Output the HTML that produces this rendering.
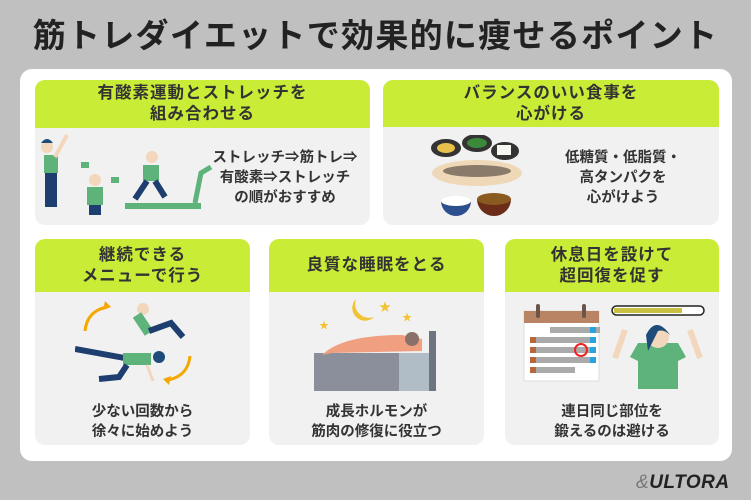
<!DOCTYPE html>
<html><head><meta charset="utf-8"><style>
*{margin:0;padding:0;box-sizing:border-box}
body{width:751px;height:500px;background:#c0c0c0;position:relative;overflow:hidden;font-family:"Liberation Sans","Noto Sans CJK JP",sans-serif;color:#333}
.title{position:absolute;left:0;top:14px;width:751px;text-align:center;font-size:33px;font-weight:bold;color:#222;letter-spacing:1.3px;line-height:44px}
.panel{position:absolute;left:20px;top:69px;width:712px;height:392px;background:#fff;border-radius:12px}
.card{position:absolute;background:#f1f1f1;border-radius:10px;overflow:hidden}
.hd{background:#c9ec36;color:#333;font-weight:bold;font-size:16.5px;line-height:21px;text-align:center;display:flex;align-items:center;justify-content:center;letter-spacing:1px}
.tx{position:absolute;font-weight:bold;font-size:14.5px;line-height:20px;text-align:center;color:#333}
svg{position:absolute}
.logo{position:absolute;left:636px;top:472px;font-size:19px;font-weight:bold;font-style:italic;color:#222;letter-spacing:0.5px}
</style></head><body>
<div class="title">筋トレダイエットで効果的に痩せるポイント</div>
<div class="panel"></div>

<div class="card" style="left:35px;top:80px;width:335px;height:145px">
 <div class="hd" style="height:48px">有酸素運動とストレッチを<br>組み合わせる</div>
 <svg width="200" height="100" style="left:0;top:35px" viewBox="0 0 200 100">
  <circle cx="12" cy="32" r="6" fill="#f3d7bd"/><path d="M6 28 q6-8 12 0" fill="#1d4c7a"/>
  <rect x="9" y="40" width="14" height="18" fill="#5db37a"/><rect x="10" y="58" width="12" height="34" fill="#1d3e6e"/>
  <path d="M20 42 l12-22" stroke="#f3d7bd" stroke-width="4"/>
  <circle cx="60" cy="65" r="6" fill="#f3d7bd"/><rect x="52" y="72" width="16" height="18" fill="#5db37a"/><rect x="54" y="90" width="12" height="20" fill="#1d3e6e"/>
  <rect x="46" y="47" width="8" height="6" fill="#5db37a"/><rect x="76" y="62" width="8" height="6" fill="#5db37a"/>
  <circle cx="117" cy="42" r="6" fill="#f3d7bd"/><rect x="108" y="50" width="16" height="16" fill="#5db37a"/><path d="M112 66 l-12 18 M120 66 l10 16" stroke="#1d3e6e" stroke-width="6"/>
  <rect x="90" y="88" width="76" height="6" fill="#5db37a"/><path d="M160 88 l6-30 l10-6" stroke="#5db37a" stroke-width="5" fill="none"/>
 </svg>
 <div class="tx" style="left:165px;top:68px;width:170px">ストレッチ⇒筋トレ⇒<br>有酸素⇒ストレッチ<br>の順がおすすめ</div>
</div>

<div class="card" style="left:383px;top:80px;width:336px;height:145px">
 <div class="hd" style="height:47px">バランスのいい食事を<br>心がける</div>
 <svg width="100" height="85" style="left:48px;top:55px" viewBox="0 0 100 85">
  <ellipse cx="15" cy="13" rx="15" ry="9" fill="#333"/><ellipse cx="15" cy="13" rx="9" ry="5" fill="#e9c14a"/>
  <ellipse cx="46" cy="8" rx="15" ry="9" fill="#333"/><ellipse cx="46" cy="8" rx="10" ry="5" fill="#3a8a3a"/>
  <ellipse cx="74" cy="16" rx="14" ry="9" fill="#333"/><rect x="66" y="10" width="14" height="10" fill="#f7f7f2"/>
  <ellipse cx="46" cy="38" rx="45" ry="13" fill="#efd8b8"/><ellipse cx="46" cy="36" rx="34" ry="6" fill="#8a7a6a"/>
  <path d="M10 66 a15 15 0 0 0 30 0 z" fill="#2e4f8e"/><ellipse cx="25" cy="66" rx="15" ry="5" fill="#fff"/>
  <path d="M46 64 a17 17 0 0 0 34 0 z" fill="#6b2c1a"/><ellipse cx="63" cy="64" rx="17" ry="6" fill="#8a5a20"/>
 </svg>
 <div class="tx" style="left:160px;top:68px;width:160px">低糖質・低脂質・<br>高タンパクを<br>心がけよう</div>
</div>

<div class="card" style="left:35px;top:239px;width:215px;height:206px">
 <div class="hd" style="height:53px">継続できる<br>メニューで行う</div>
 <svg width="140" height="90" style="left:40px;top:62px" viewBox="0 0 140 90">
  <path d="M10 30 q2-20 22-24" stroke="#f5a800" stroke-width="3" fill="none"/><path d="M30 0 l6 6 l-8 3z" fill="#f5a800"/>
  <path d="M115 55 q-2 20 -22 24" stroke="#f5a800" stroke-width="3" fill="none"/><path d="M94 84 l-6-6 l8-3z" fill="#f5a800"/>
  <circle cx="68" cy="8" r="6" fill="#f3d7bd"/><path d="M62 14 l12 18" stroke="#5db37a" stroke-width="10"/><path d="M74 30 l22-8 l12 14" stroke="#1d3e6e" stroke-width="6" fill="none"/>
  <path d="M0 48 l55 10" stroke="#1d3e6e" stroke-width="6"/><rect x="48" y="52" width="28" height="12" fill="#5db37a"/><circle cx="84" cy="56" r="6" fill="#1d4c7a"/>
  <path d="M52 64 l-8 12 l-20 2" stroke="#1d3e6e" stroke-width="6" fill="none"/><path d="M72 64 l6 16" stroke="#f3d7bd" stroke-width="3"/>
 </svg>
 <div class="tx" style="left:0;top:163px;width:215px">少ない回数から<br>徐々に始めよう</div>
</div>

<div class="card" style="left:269px;top:239px;width:215px;height:206px">
 <div class="hd" style="height:53px">良質な睡眠をとる</div>
 <svg width="125" height="95" style="left:45px;top:58px" viewBox="0 0 125 95">
  <path d="M42 2 a12 12 0 1 0 18 18 a14 14 0 0 1 -18 -18z" fill="#f2c230"/>
  <text x="65" y="14" font-size="12" fill="#f2c230">★</text><text x="88" y="24" font-size="10" fill="#f2c230">★</text><text x="5" y="32" font-size="10" fill="#f2c230">★</text>
  <rect x="0" y="56" width="90" height="38" fill="#8b8f9b"/><rect x="85" y="56" width="30" height="38" fill="#b0bcc6"/><rect x="115" y="34" width="7" height="60" fill="#6e7480"/>
  <path d="M8 58 q20-20 80-20 l20 4 l0 12 l-90 2z" fill="#f0a080"/><circle cx="98" cy="42" r="7" fill="#8a7068"/>
 </svg>
 <div class="tx" style="left:0;top:163px;width:215px">成長ホルモンが<br>筋肉の修復に役立つ</div>
</div>

<div class="card" style="left:505px;top:239px;width:214px;height:206px">
 <div class="hd" style="height:53px">休息日を設けて<br>超回復を促す</div>
 <svg width="190" height="90" style="left:15px;top:64px" viewBox="0 0 190 90">
  <rect x="4" y="8" width="75" height="70" fill="#fff" stroke="#ddd"/><rect x="4" y="8" width="75" height="12" fill="#b98463"/>
  <rect x="16" y="1" width="4" height="14" rx="2" fill="#6b5548"/><rect x="62" y="1" width="4" height="14" rx="2" fill="#6b5548"/>
  <g fill="#aaa"><rect x="30" y="24" width="50" height="6"/><rect x="10" y="34" width="60" height="6"/><rect x="10" y="44" width="60" height="6"/><rect x="10" y="54" width="60" height="6"/><rect x="10" y="64" width="45" height="6"/></g>
  <g fill="#b8663a"><rect x="10" y="34" width="6" height="6"/><rect x="10" y="44" width="6" height="6"/><rect x="10" y="54" width="6" height="6"/><rect x="10" y="64" width="6" height="6"/></g>
  <g fill="#29a3dd"><rect x="70" y="24" width="6" height="6"/><rect x="70" y="34" width="6" height="6"/><rect x="70" y="44" width="6" height="6"/><rect x="70" y="54" width="6" height="6"/></g>
  <circle cx="61" cy="47" r="6" fill="none" stroke="#e22" stroke-width="2"/>
  <rect x="92" y="3" width="92" height="9" rx="4.5" fill="#fff" stroke="#222" stroke-width="1.5"/><rect x="94" y="5" width="68" height="5" fill="#c8c040"/>
  <path d="M95 55 l10-28 M180 55 l-10-28" stroke="#f3d7bd" stroke-width="6"/>
  <path d="M118 40 h40 l8 14 l-8 4 v28 h-40 v-28 l-8-4z" fill="#5db37a"/>
  <circle cx="138" cy="34" r="11" fill="#f3d7bd"/><path d="M126 32 q10-20 24 0 q-6-6 -12-4 l-10 20z" fill="#1d4c7a"/>
 </svg>
 <div class="tx" style="left:0;top:163px;width:214px">連日同じ部位を<br>鍛えるのは避ける</div>
</div>

<div class="logo"><span style="color:#777;font-weight:normal">&amp;</span>ULTORA</div>
</body></html>
